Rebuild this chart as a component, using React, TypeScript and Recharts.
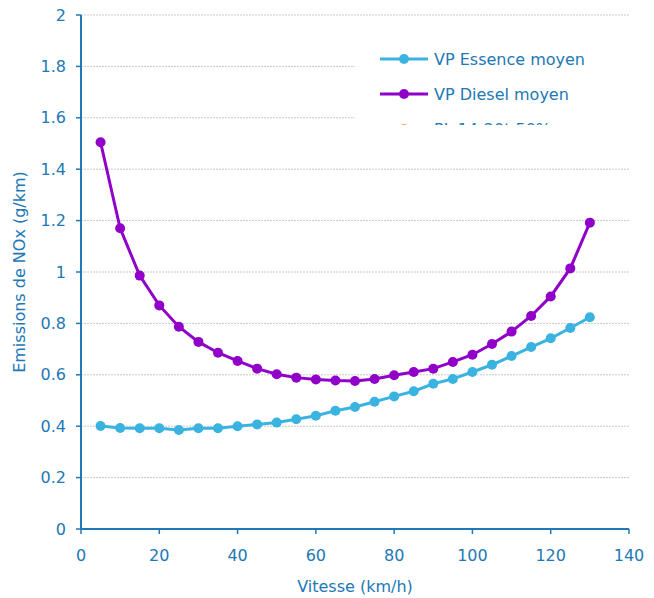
import { CartesianGrid, Label, Legend, Line, LineChart, XAxis, YAxis } from "recharts";

const speeds = [5, 10, 15, 20, 25, 30, 35, 40, 45, 50, 55, 60, 65, 70, 75, 80, 85, 90, 95, 100, 105, 110, 115, 120, 125, 130];
const essence = [0.401, 0.393, 0.392, 0.392, 0.385, 0.392, 0.392, 0.4, 0.407, 0.414, 0.427, 0.441, 0.46, 0.475, 0.495, 0.516, 0.536, 0.565, 0.584, 0.611, 0.639, 0.673, 0.708, 0.742, 0.782, 0.824];
const diesel = [1.505, 1.17, 0.986, 0.87, 0.787, 0.728, 0.686, 0.654, 0.624, 0.602, 0.589, 0.582, 0.578, 0.576, 0.584, 0.598, 0.611, 0.624, 0.65, 0.678, 0.72, 0.768, 0.829, 0.905, 1.014, 1.192];
const xTicks = [0, 20, 40, 60, 80, 100, 120, 140];
const yTicks = [0, 0.2, 0.4, 0.6, 0.8, 1, 1.2, 1.4, 1.6, 1.8, 2];
const legendItems = [
  { label: "VP Essence moyen", color: "#3bb3e0" },
  { label: "VP Diesel moyen", color: "#9100c9" },
  { label: "PL 14-20t 50%", color: "#f4a070" },
];

const data = speeds.map((v, i) => ({ v, essence: essence[i], diesel: diesel[i] }));

const BLUE = "#2178b5";
const FONT = "'DejaVu Sans', Verdana, sans-serif";

// the third entry is cut by the legend frame, as in the source picture
function LegendBox() {
  return (
    <div
      style={{
        position: "relative",
        background: "#fff",
        width: 275,
        height: 90,
        overflow: "hidden",
        fontFamily: FONT,
        fontSize: 16,
        color: BLUE,
      }}
    >
      {legendItems.map((it, i) => (
        <div
          key={it.label}
          style={{
            position: "absolute",
            left: 25,
            top: 24 + i * 35 - 10,
            height: 20,
            display: "flex",
            alignItems: "center",
            whiteSpace: "nowrap",
          }}
        >
          <svg width={48} height={20} style={{ marginRight: 6 }}>
            <line x1={0} y1={10} x2={48} y2={10} stroke={it.color} strokeWidth={3} />
            <circle cx={24} cy={10} r={5} fill={it.color} />
          </svg>
          <span>{it.label}</span>
        </div>
      ))}
    </div>
  );
}

export default function App() {
  return (
    <LineChart width={646} height={590} data={data} margin={{ top: 7, right: 25, left: 0, bottom: 9 }}>
      <CartesianGrid vertical={false} stroke="#c8c8c8" strokeDasharray="2 1" />
      <XAxis
        dataKey="v"
        type="number"
        domain={[0, 140]}
        ticks={xTicks}
        height={60}
        tickSize={5}
        tickMargin={16}
        axisLine={{ stroke: BLUE, strokeWidth: 2 }}
        tickLine={{ stroke: BLUE, strokeWidth: 1.5 }}
        tick={{ fill: BLUE, fontSize: 16, fontFamily: FONT }}
      >
        <Label value="Vitesse (km/h)" position="insideBottom" offset={-3} fill={BLUE} fontSize={16} fontFamily={FONT} />
      </XAxis>
      <YAxis
        type="number"
        domain={[0, 2]}
        ticks={yTicks}
        width={73}
        tickSize={5}
        tickMargin={10}
        interval={0}
        axisLine={{ stroke: BLUE, strokeWidth: 2 }}
        tickLine={{ stroke: BLUE, strokeWidth: 1.5 }}
        tick={{ fill: BLUE, fontSize: 16, fontFamily: FONT }}
      >
        <Label
          value="Emissions de NOx (g/km)"
          angle={-90}
          position="insideLeft"
          offset={11}
          style={{ textAnchor: "middle" }}
          fill={BLUE}
          fontSize={16}
          fontFamily={FONT}
        />
      </YAxis>
      <Legend
        layout="vertical"
        align="center"
        verticalAlign="middle"
        wrapperStyle={{ left: 347, top: 27, width: 275, height: 90 }}
        content={() => <LegendBox />}
      />
      <Line
        dataKey="essence"
        stroke="#3bb3e0"
        strokeWidth={3}
        dot={{ r: 5, fill: "#3bb3e0", stroke: "#3bb3e0", strokeWidth: 0 }}
        isAnimationActive={false}
      />
      <Line
        dataKey="diesel"
        stroke="#9100c9"
        strokeWidth={3}
        dot={{ r: 5, fill: "#9100c9", stroke: "#9100c9", strokeWidth: 0 }}
        isAnimationActive={false}
      />
    </LineChart>
  );
}
